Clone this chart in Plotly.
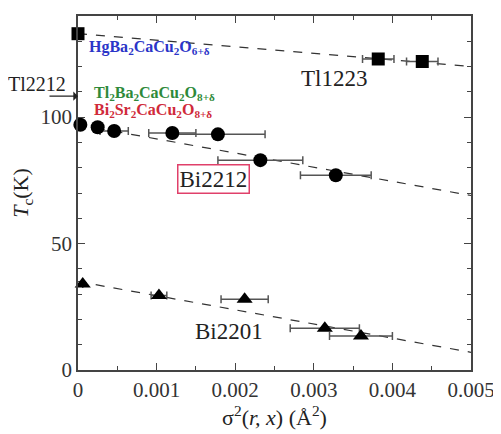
import plotly.graph_objects as go

# ---- data ----
hg_x = [0.0]
hg_y = [133]

tl1223_x = [0.00382, 0.00438]
tl1223_y = [123, 122]
tl1223_err = [0.0002, 0.0002]

bi2212_x = [0.00003, 0.00025, 0.00046, 0.0012, 0.00178, 0.00232, 0.00328]
bi2212_y = [97, 96, 94.5, 93.7, 93.2, 83, 77]
bi2212_err = [0, 0, 0.00018, 0.0003, 0.0006, 0.00054, 0.00045]

bi2201_x = [0.00006, 0.00103, 0.00212, 0.00314, 0.0036]
bi2201_y = [34, 29.5, 28, 16.5, 13.4]
bi2201_err = [0, 0.0001, 0.0003, 0.00044, 0.0004]

fit_x = [0.0, 0.005]
tl1223_fit = [133, 120]
bi2212_fit = [97, 69]
bi2201_fit = [35, 7]

x_ticks = [0, 0.001, 0.002, 0.003, 0.004, 0.005]
x_ticklabels = ["0", "0.001", "0.002", "0.003", "0.004", "0.005"]
y_ticks = [0, 50, 100]

FONT = "Liberation Serif"

fig = go.Figure()

line_style = dict(color="#333333", width=1.2, dash="dash")
for fy in [tl1223_fit, bi2212_fit, bi2201_fit]:
    fig.add_trace(go.Scatter(x=fit_x, y=fy, mode="lines", line=line_style,
                             showlegend=False, hoverinfo="skip"))

err_style = dict(type="data", thickness=1.5, width=4, color="#555555")

fig.add_trace(go.Scatter(x=hg_x, y=hg_y, mode="markers",
                         marker=dict(symbol="square", size=13, color="black"),
                         showlegend=False, cliponaxis=False))
fig.add_trace(go.Scatter(x=tl1223_x, y=tl1223_y, mode="markers",
                         marker=dict(symbol="square", size=13, color="black"),
                         error_x=dict(array=tl1223_err, **err_style),
                         showlegend=False))
fig.add_trace(go.Scatter(x=bi2212_x, y=bi2212_y, mode="markers",
                         marker=dict(symbol="circle", size=14, color="black"),
                         error_x=dict(array=bi2212_err, **err_style),
                         showlegend=False, cliponaxis=False))
fig.add_trace(go.Scatter(x=bi2201_x, y=bi2201_y, mode="markers",
                         marker=dict(symbol="triangle-up", size=14, color="black"),
                         error_x=dict(array=bi2201_err, **err_style),
                         showlegend=False, cliponaxis=False))

annots = [
    dict(x=0.00326, y=115.2, text="Tl1223", font=dict(size=23, color="#222")),
    dict(x=0.00173, y=75.5, text="Bi2212", font=dict(size=23, color="#222"),
         bordercolor="#e0406a", borderwidth=1.5, borderpad=1, bgcolor="white"),
    dict(x=0.00192, y=15.3, text="Bi2201", font=dict(size=23, color="#222")),
    dict(x=0.00012, y=127.5, xanchor="left",
         text="<b>HgBa<sub>2</sub>CaCu<sub>2</sub>O<sub>6+δ</sub></b>",
         font=dict(size=16, color="#2b35c8")),
    dict(x=0.00018, y=109.5, xanchor="left",
         text="<b>Tl<sub>2</sub>Ba<sub>2</sub>CaCu<sub>2</sub>O<sub>8+δ</sub></b>",
         font=dict(size=16, color="#2e8a3a")),
    dict(x=0.00018, y=102.5, xanchor="left",
         text="<b>Bi<sub>2</sub>Sr<sub>2</sub>CaCu<sub>2</sub>O<sub>8+δ</sub></b>",
         font=dict(size=16, color="#d02a3a")),
]
for a in annots:
    a.setdefault("showarrow", False)
    fig.add_annotation(**a)

# Tl2212 label outside the axes, left of the plot, with a horizontal arrow below it
fig.add_annotation(x=0, xref="x", xshift=-41, y=113.3, yref="y", text="Tl2212",
                   showarrow=False, font=dict(size=20, color="#222"))
fig.add_annotation(x=0, y=108.3, ax=-30, ay=0, text="", showarrow=True,
                   arrowhead=1, arrowsize=1.3, arrowwidth=1.2, arrowcolor="#222")

axis_common = dict(showline=True, linecolor="#444", linewidth=1.5, mirror="ticks",
                   ticks="inside", tickcolor="#444", ticklen=7, tickwidth=1.2,
                   showgrid=False, zeroline=False,
                   tickfont=dict(family=FONT, size=21, color="#333"))

fig.update_xaxes(range=[0, 0.005], tickvals=x_ticks, ticktext=x_ticklabels,
                 minor=dict(ticks="inside", dtick=0.0005, ticklen=4, tickcolor="#444"),
                 title=dict(text="σ<sup>2</sup>(<i>r, x</i>) (Å<sup>2</sup>)",
                            font=dict(family=FONT, size=22, color="#222"), standoff=2),
                 **axis_common)
fig.update_yaxes(range=[0, 140], tickvals=y_ticks,
                 minor=dict(ticks="inside", dtick=10, ticklen=4, tickcolor="#444"),
                 title=dict(text="<i>T</i><sub>c</sub>(K)",
                            font=dict(family=FONT, size=22, color="#222"), standoff=6),
                 **axis_common)

# page has an 8px body margin, so the figure is made 8px smaller on each axis
fig.update_layout(width=493, height=426, margin=dict(l=70, r=27, t=6, b=64),
                  plot_bgcolor="white", paper_bgcolor="white",
                  font=dict(family=FONT))

fig.write_html("out.html")
